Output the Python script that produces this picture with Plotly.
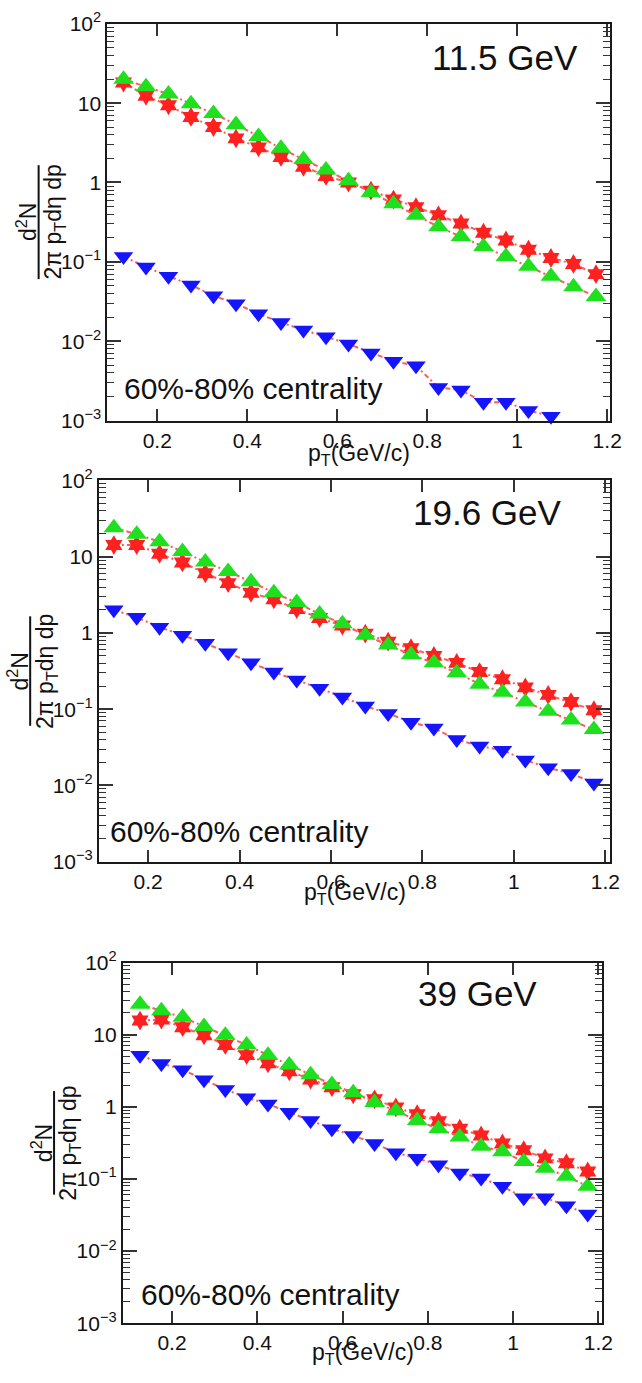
import plotly.graph_objects as go

# ---------------- data ----------------
pt = [0.125, 0.175, 0.225, 0.275, 0.325, 0.375, 0.425, 0.475, 0.525, 0.575, 0.625,
      0.675, 0.725, 0.775, 0.825, 0.875, 0.925, 0.975, 1.025, 1.075, 1.125, 1.175]

energy_labels = ["11.5 GeV", "19.6 GeV", "39 GeV"]
centrality_label = "60%-80% centrality"

x_tick_vals = [0.2, 0.4, 0.6, 0.8, 1.0, 1.2]
x_tick_text = ["0.2", "0.4", "0.6", "0.8", "1", "1.2"]
y_tick_vals = [1e-3, 1e-2, 1e-1, 1, 10, 100]
y_tick_text = ["10<sup>\u22123</sup>", "10<sup>\u22122</sup>", "10<sup>\u22121</sup>", "1", "10", "10<sup>2</sup>"]

# 11.5 GeV
star_11p5 = [18.2, 12.4, 9.4, 6.7, 5.0, 3.6, 2.77, 2.1, 1.58, 1.21, 1.0,
             0.79, 0.61, 0.49, 0.386, 0.304, 0.233, 0.186, 0.142, 0.112, 0.094, 0.070]
tri_up_11p5 = [20.0, 16.1, 13.0, 9.8, 7.4, 5.4, 3.8, 2.7, 1.95, 1.44, 1.05,
               0.75, 0.54, 0.386, 0.277, 0.208, 0.156, 0.117, 0.088, 0.066, 0.0485, 0.0365]
tri_dn_11p5 = [0.117, 0.086, 0.066, 0.051, 0.0375, 0.0296, 0.0222, 0.0172, 0.0138, 0.0114,
               0.0092, 0.0071, 0.0056, 0.0049, 0.00261, 0.00242, 0.0017, 0.0017, 0.00134, 0.00113]

# 19.6 GeV
star_19p6 = [14.2, 14.2, 10.9, 8.4, 6.05, 4.5, 3.36, 2.75, 2.05, 1.57, 1.25,
             0.98, 0.77, 0.63, 0.50, 0.405, 0.307, 0.247, 0.193, 0.154, 0.124, 0.097]
tri_up_19p6 = [24.0, 19.7, 15.7, 11.7, 8.5, 6.4, 4.7, 3.36, 2.5, 1.77, 1.32,
               0.93, 0.695, 0.517, 0.405, 0.301, 0.213, 0.167, 0.124, 0.094, 0.072, 0.054]
tri_dn_19p6 = [2.01, 1.60, 1.19, 0.93, 0.73, 0.55, 0.405, 0.307, 0.242, 0.188, 0.144,
               0.110, 0.088, 0.0675, 0.0565, 0.040, 0.0329, 0.029, 0.0216, 0.017, 0.0143, 0.0108]

# 39 GeV
star_39 = [15.7, 16.2, 12.7, 9.8, 7.2, 5.2, 4.0, 3.1, 2.38, 1.87, 1.49,
           1.27, 0.98, 0.79, 0.63, 0.496, 0.40, 0.31, 0.251, 0.193, 0.165, 0.127]
tri_up_39 = [26.5, 21.5, 17.4, 13.0, 9.8, 7.2, 5.2, 3.8, 2.79, 2.04, 1.57,
             1.15, 0.88, 0.644, 0.496, 0.382, 0.285, 0.238, 0.174, 0.141, 0.109, 0.079]
tri_dn_39 = [5.2, 4.0, 3.26, 2.38, 1.74, 1.34, 1.09, 0.84, 0.644, 0.496, 0.40,
             0.31, 0.231, 0.193, 0.157, 0.121, 0.103, 0.079, 0.055, 0.055, 0.0424, 0.0326]

panels_data = [
    (star_11p5, tri_up_11p5, tri_dn_11p5),
    (star_19p6, tri_up_19p6, tri_dn_19p6),
    (star_39, tri_up_39, tri_dn_39),
]

# ---------------- layout geometry (pixels) ----------------
W, H = 642, 1383
frames = [
    dict(l=109.3, r=621.0, t=10.0, b=414.0, xr=[0.0893, 1.207],
         energy=(590, 44), cent=(124, 381), xtitle_y=449),
    dict(l=100.7, r=621.0, t=475.0, b=863.3, xr=[0.0925, 1.211],
         energy=(574, 508), cent=(110, 833), xtitle_y=896),
    dict(l=125.0, r=612.7, t=966.0, b=1333.3, xr=[0.0847, 1.209],
         energy=(548, 998), cent=(141, 1304), xtitle_y=1364),
]


def px_x(v):
    return v / W


def px_y(v):
    return 1 - v / H


FONT = "Liberation Sans, Arial, Helvetica, sans-serif"
RED = "#ff2020"
GREEN = "#1fe01f"
BLUE = "#1414ff"
LINE_RED = "#ff5c5c"

fig = go.Figure()
annotations = []
shapes = []
minor_vals = [k * 10.0 ** e for e in range(-3, 2) for k in range(2, 10)]

for i, (fr, (s_star, s_up, s_dn)) in enumerate(zip(frames, panels_data)):
    n = i + 1
    xa = "x" if n == 1 else f"x{n}"
    ya = "y" if n == 1 else f"y{n}"
    series = [
        (s_star, "hexagram", 15, RED),
        (s_up, "triangle-up", 18, GREEN),
        (s_dn, "triangle-down", 17, BLUE),
    ]
    for vals, sym, size, col in series:
        fig.add_trace(go.Scatter(
            x=pt[:len(vals)], y=vals, xaxis=xa, yaxis=ya,
            mode="lines+markers",
            line=dict(color=LINE_RED, width=2, dash="5px,3px,2px,3px"),
            marker=dict(symbol=sym, size=size, color=col, line=dict(width=0)),
            showlegend=False, cliponaxis=False,
        ))

    common_axis = dict(
        showline=True, linecolor="#1a1a1a", linewidth=2, mirror="ticks",
        ticks="inside", tickcolor="#333333", tickwidth=1.5,
        showgrid=False, zeroline=False,
        tickfont=dict(family=FONT, size=21, color="#111111"),
    )
    xkey = "xaxis" if n == 1 else f"xaxis{n}"
    ykey = "yaxis" if n == 1 else f"yaxis{n}"
    fig.update_layout(**{
        xkey: dict(common_axis, domain=[px_x(fr["l"]), px_x(fr["r"])], range=fr["xr"],
                   anchor=ya, tickvals=x_tick_vals, ticktext=x_tick_text, ticklen=12),
        ykey: dict(common_axis, domain=[px_y(fr["b"]), px_y(fr["t"])], type="log",
                   range=[-3, 2], anchor=xa, tickvals=y_tick_vals, ticktext=y_tick_text,
                   ticklen=14,
                   minor=dict(tickvals=minor_vals, ticks="inside", ticklen=7,
                              tickcolor="#333333", tickwidth=1.2)),
    })

    ex, ey = fr["energy"]
    annotations.append(dict(xref="paper", yref="paper", x=px_x(ex), y=px_y(ey),
                            xanchor="right", yanchor="middle", showarrow=False,
                            text=energy_labels[i],
                            font=dict(family=FONT, size=35, color="#111111")))
    cx, cy = fr["cent"]
    annotations.append(dict(xref="paper", yref="paper", x=px_x(cx), y=px_y(cy),
                            xanchor="left", yanchor="middle", showarrow=False,
                            text=centrality_label,
                            font=dict(family=FONT, size=30, color="#111111")))
    annotations.append(dict(xref="paper", yref="paper",
                            x=px_x((fr["l"] + fr["r"]) / 2), y=px_y(fr["xtitle_y"]),
                            xanchor="center", yanchor="middle", showarrow=False,
                            text="p<sub>T</sub>(GeV/c)",
                            font=dict(family=FONT, size=23, color="#111111")))
    bar_x = fr["l"] - 70
    mid_y = (fr["t"] + fr["b"]) / 2
    half = 58 * (fr["b"] - fr["t"]) / 404
    annotations.append(dict(xref="paper", yref="paper", x=px_x(bar_x - 12), y=px_y(mid_y),
                            xanchor="center", yanchor="middle", showarrow=False,
                            textangle=-90, text="d<sup>2</sup>N",
                            font=dict(family=FONT, size=23, color="#111111")))
    annotations.append(dict(xref="paper", yref="paper", x=px_x(bar_x + 16), y=px_y(mid_y),
                            xanchor="center", yanchor="middle", showarrow=False,
                            textangle=-90, text="2\u03c0 p<sub>T</sub>d\u03b7 dp",
                            font=dict(family=FONT, size=23, color="#111111")))
    shapes.append(dict(type="line", xref="paper", yref="paper",
                       x0=px_x(bar_x), x1=px_x(bar_x),
                       y0=px_y(mid_y - half), y1=px_y(mid_y + half),
                       line=dict(color="#111111", width=2)))

fig.update_layout(
    width=W, height=H,
    margin=dict(l=0, r=0, t=0, b=0),
    paper_bgcolor="white", plot_bgcolor="white",
    annotations=annotations, shapes=shapes,
    font=dict(family=FONT),
)

fig.write_html(
    "out.html",
    config={"displayModeBar": False},
    post_script="document.body.style.margin='0px';document.body.style.padding='0px';"
                "document.body.style.overflow='hidden';",
)
